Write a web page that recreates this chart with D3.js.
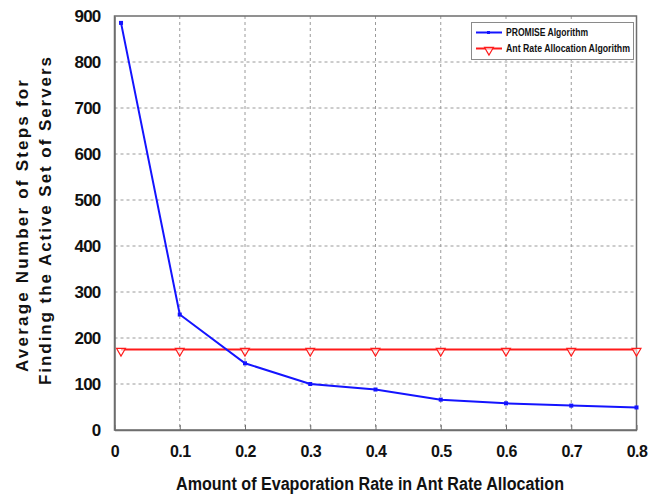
<!DOCTYPE html>
<html>
<head>
<meta charset="utf-8">
<script src="https://cdn.jsdelivr.net/npm/d3@7"></script>
<style>
  html, body { margin: 0; padding: 0; background: #fff; }
  svg { display: block; font-family: Arial, "Liberation Sans", sans-serif; }
</style>
</head>
<body>
<svg id="chart" width="649" height="498"></svg>
<script>
// Evaporation rate values on the x axis
const evaporationRates = [0.01, 0.1, 0.2, 0.3, 0.4, 0.5, 0.6, 0.7, 0.8];
// Average steps for PROMISE
const promiseSteps = [885, 251, 145, 100, 88, 66, 58, 53, 49];
// Average steps for Ant Rate Allocation (constant)
const antRateSteps = [175, 175, 175, 175, 175, 175, 175, 175, 175];
// Tick values
const xTicks = [0, 0.1, 0.2, 0.3, 0.4, 0.5, 0.6, 0.7, 0.8];
const yTicks = [0, 100, 200, 300, 400, 500, 600, 700, 800, 900];
const seriesNames = ["PROMISE Algorithm", "Ant Rate Allocation Algorithm"];

const svg = d3.select("#chart");
const plot = { left: 114.5, right: 636.5, top: 16, bottom: 430 };

const x = d3.scaleLinear().domain([0, 0.8]).range([plot.left, plot.right]);
const y = d3.scaleLinear().domain([0, 900]).range([plot.bottom, plot.top]);

// Grid lines
const grid = svg.append("g").attr("stroke", "#9a9a9a").attr("stroke-width", 1)
  .attr("stroke-dasharray", "3,3");
grid.selectAll("line.v").data(xTicks.slice(1, -1)).join("line")
  .attr("x1", d => x(d)).attr("x2", d => x(d))
  .attr("y1", plot.top).attr("y2", plot.bottom);
grid.selectAll("line.h").data(yTicks.slice(1, -1)).join("line")
  .attr("x1", plot.left).attr("x2", plot.right)
  .attr("y1", d => y(d)).attr("y2", d => y(d));

// Frame
svg.append("rect")
  .attr("x", plot.left).attr("y", plot.top)
  .attr("width", plot.right - plot.left).attr("height", plot.bottom - plot.top)
  .attr("fill", "none").attr("stroke", "#6e6e6e").attr("stroke-width", 1.5);

// Bottom axis with inward ticks
const xAxis = d3.axisBottom(x).tickValues(xTicks)
  .tickFormat(d => d === 0 ? "0" : d3.format(".1f")(d))
  .tickSizeInner(-5).tickSizeOuter(0).tickPadding(16);
const gx = svg.append("g").attr("transform", `translate(0,${plot.bottom})`).call(xAxis);
gx.select(".domain").attr("stroke", "#6e6e6e").attr("stroke-width", 1.5);
gx.selectAll(".tick line").attr("stroke", "#6e6e6e");
gx.selectAll(".tick text")
  .attr("font-size", 16).attr("font-weight", "bold").attr("fill", "#111")
  .attr("letter-spacing", "-0.6px");

// Left axis
const yAxis = d3.axisLeft(y).tickValues(yTicks).tickSize(0).tickPadding(14);
const gy = svg.append("g").attr("transform", `translate(${plot.left},0)`).call(yAxis);
gy.select(".domain").attr("stroke", "#6e6e6e").attr("stroke-width", 1.5);
gy.selectAll(".tick text")
  .attr("font-size", 17).attr("font-weight", "bold").attr("fill", "#111")
  .attr("letter-spacing", "-0.8px");

// Series
const line = d3.line().x(d => x(d[0])).y(d => y(d[1]));
const blue = "#1414ff", red = "#ff1a1a";

const promisePts = evaporationRates.map((r, i) => [r, promiseSteps[i]]);
const antPts = evaporationRates.map((r, i) => [r, antRateSteps[i]]);

svg.append("path").datum(antPts).attr("d", line)
  .attr("fill", "none").attr("stroke", red).attr("stroke-width", 2);
const tri = d3.symbol().type(d3.symbolTriangle).size(34);
svg.append("g").selectAll("path").data(antPts).join("path")
  .attr("d", tri)
  .attr("transform", d => `translate(${x(d[0])},${y(d[1]) + 1.5}) rotate(180)`)
  .attr("fill", "#fff").attr("fill-opacity", 0.6).attr("stroke", red).attr("stroke-width", 1.2);

svg.append("path").datum(promisePts).attr("d", line)
  .attr("fill", "none").attr("stroke", blue).attr("stroke-width", 2);
svg.append("g").selectAll("rect").data(promisePts).join("rect")
  .attr("x", d => x(d[0]) - 2).attr("y", d => y(d[1]) - 2)
  .attr("width", 4).attr("height", 4).attr("fill", blue);

// Legend
const lg = svg.append("g");
lg.append("rect").attr("x", 471.5).attr("y", 22.5).attr("width", 162).attr("height", 37)
  .attr("fill", "#fff").attr("stroke", "#8a8a8a").attr("stroke-width", 1);
const rows = [
  { name: seriesNames[0], color: blue, y: 32.5, len: 82 },
  { name: seriesNames[1], color: red, y: 48.5, len: 124 }
];
rows.forEach((r, i) => {
  lg.append("line").attr("x1", 476).attr("x2", 502).attr("y1", r.y).attr("y2", r.y)
    .attr("stroke", r.color).attr("stroke-width", 2);
  if (i === 0) {
    lg.append("rect").attr("x", 487).attr("y", r.y - 1.5).attr("width", 3).attr("height", 3).attr("fill", blue);
  } else {
    lg.append("path").attr("d", tri)
      .attr("transform", `translate(489,${r.y + 1.5}) rotate(180)`)
      .attr("fill", "#fff").attr("fill-opacity", 0.6).attr("stroke", red).attr("stroke-width", 1.2);
  }
  lg.append("text").attr("x", 506).attr("y", r.y + 3.5)
    .attr("font-size", 10).attr("font-weight", "bold").attr("fill", "#111")
    .attr("textLength", r.len).attr("lengthAdjust", "spacingAndGlyphs")
    .text(r.name);
});

// Axis titles
svg.append("text").attr("x", 176).attr("y", 490)
  .attr("font-size", 18).attr("font-weight", "bold").attr("fill", "#111")
  .attr("textLength", 388).attr("lengthAdjust", "spacingAndGlyphs")
  .text("Amount of Evaporation Rate in Ant Rate Allocation");

svg.append("text")
  .attr("transform", "translate(28,372) rotate(-90)")
  .attr("font-size", 17).attr("font-weight", "bold").attr("fill", "#111")
  .attr("textLength", 292).attr("lengthAdjust", "spacing")
  .text("Average Number of Steps for");
svg.append("text")
  .attr("transform", "translate(51,385) rotate(-90)")
  .attr("font-size", 17).attr("font-weight", "bold").attr("fill", "#111")
  .attr("textLength", 328).attr("lengthAdjust", "spacing")
  .text("Finding the Active Set of Servers");
</script>
</body>
</html>
